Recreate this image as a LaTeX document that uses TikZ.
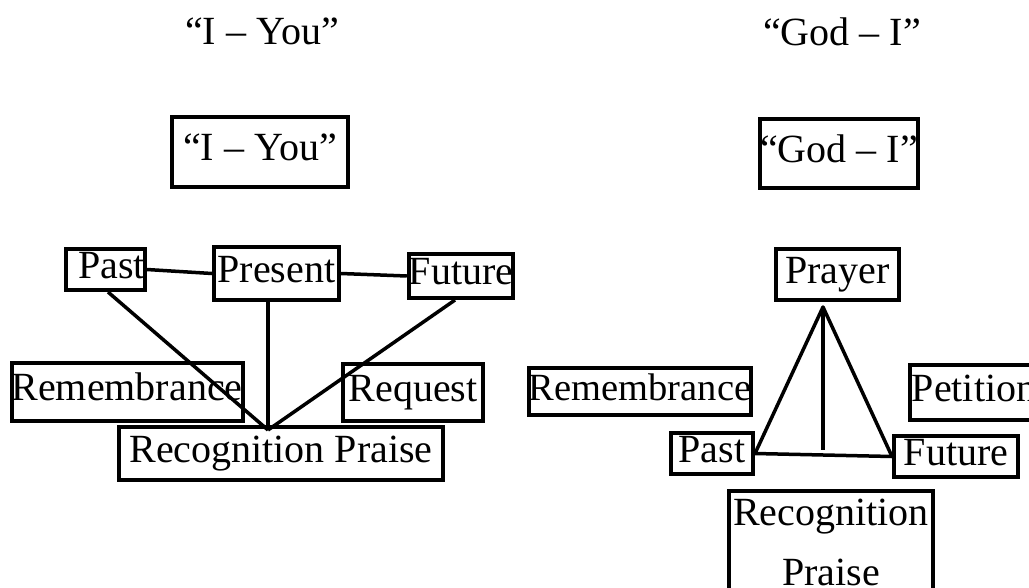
\documentclass[tikz,border=0pt]{standalone}
\usepackage{fontspec}
\setmainfont{Liberation Serif}
\begin{document}
\begin{tikzpicture}[x=1pt,y=-1pt,
  box/.style={draw, line width=4pt, inner sep=0pt,
    font=\fontsize{40}{48}\selectfont, text height=26pt, text depth=9pt},
  ttl/.style={inner sep=0pt, font=\fontsize{40}{48}\selectfont, anchor=base},
  conn/.style={line width=3.5pt}]
\useasboundingbox (0,0) rectangle (1029,587);
\clip (0,0) rectangle (1029,587);

% titles
\node[ttl] (t1) at (262,44) {“I – You”};
\node[ttl] (t2) at (842,45) {“God – I”};

% left diagram
\node[box, minimum width=176, minimum height=70] (iyou) at (260,152) {“I – You”};
\node[box, minimum width=75, minimum height=41] (past1) at (105.5,269.5) {\hspace*{12pt}Past};
\node[box, minimum width=125, minimum height=53] (present1) at (276.5,273.5) {Present};
\node[box, minimum width=94, minimum height=44] (future1) at (461,276) {Future};
\node[box, minimum width=224, minimum height=58] (rem1) at (127,392) {Remembrance};
\node[box, minimum width=140, minimum height=57] (req1) at (413,392.5) {Request};
\node[box, minimum width=324, minimum height=53] (rp1) at (281,453.5) {Recognition Praise};

\coordinate (conv) at (268,430);
\draw[conn] (past1.east) -- (present1.west);
\draw[conn] (present1.east) -- (future1.west);
\draw[conn] ([xshift=2.5pt]past1.south) -- (conv);
\draw[conn] (present1.south -| conv) -- (conv);
\draw[conn] ([xshift=-6pt]future1.south) -- (conv);

% right diagram
\node[box, minimum width=158, minimum height=69] (godi) at (839,153.5) {“God – I”};
\node[box, minimum width=123, minimum height=51] (prayer) at (837.5,274.5) {Prayer};
\node[box, minimum width=222, minimum height=47, font=\fontsize{38.5}{46}\selectfont] (rem2) at (640,391.5) {Remembrance};
\node[box, minimum width=128, minimum height=55] (pet) at (974,392.5) {Petition};
\node[box, minimum width=82, minimum height=41] (past2) at (712,453.5) {Past};
\node[box, minimum width=124, minimum height=41] (future2) at (956,456.5) {Future};
\node[box, minimum width=204, minimum height=112, align=center,
  font=\fontsize{40}{60}\selectfont, text height=86pt, text depth=9pt] (rp2) at (831,547) {Recognition\\Praise};

\coordinate (apex) at (823,307);
\coordinate (base) at (823,450);
\draw[conn, line join=round] (past2.east) -- (apex) -- (future2.west);
\draw[conn] (apex) -- (base);
\draw[conn] (past2.east) -- (future2.west);
\end{tikzpicture}
\end{document}
